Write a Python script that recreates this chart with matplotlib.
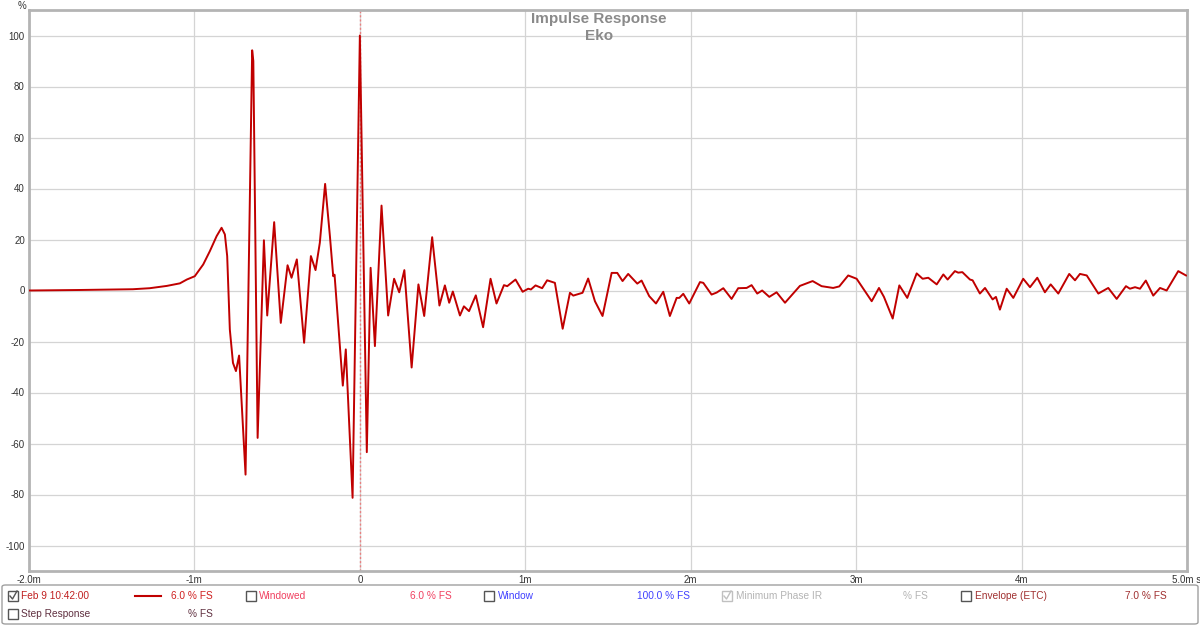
import matplotlib
matplotlib.use("Agg")
import matplotlib.pyplot as plt
from matplotlib.patches import Rectangle, FancyBboxPatch
from matplotlib.lines import Line2D

plt.rcParams['font.family'] = ['Liberation Sans', 'DejaVu Sans']
plt.rcParams['axes.unicode_minus'] = False

# impulse response (time in ms, level in % FS)
time_ms = [-2.0, -1.693, -1.372, -1.270, -1.167, -1.088, -1.046, -0.998, -0.947,
           -0.907, -0.866, -0.836, -0.816, -0.802, -0.786, -0.767, -0.749, -0.730,
           -0.691, -0.651, -0.644, -0.618,
           -0.580, -0.560, -0.518, -0.478, -0.437, -0.413, -0.381, -0.337, -0.296,
           -0.268, -0.242, -0.210, -0.181, -0.161, -0.153, -0.103, -0.085, -0.044,
           0.0, 0.042,
           0.065, 0.091, 0.131, 0.171, 0.207, 0.238, 0.269, 0.313, 0.354, 0.389,
           0.437, 0.481, 0.514, 0.540, 0.562, 0.605, 0.629, 0.660, 0.701, 0.745,
           0.790, 0.826, 0.871, 0.891, 0.941, 0.984, 1.018, 1.034, 1.062, 1.102,
           1.132, 1.179, 1.226, 1.270, 1.290, 1.346, 1.380, 1.421, 1.467, 1.522,
           1.556, 1.588, 1.622, 1.677, 1.703, 1.749, 1.790, 1.834, 1.874, 1.915,
           1.931, 1.955, 1.991, 2.056, 2.076, 2.126, 2.157, 2.197, 2.247, 2.287,
           2.338, 2.368, 2.402, 2.432, 2.475, 2.519, 2.570, 2.660, 2.737, 2.791,
           2.861, 2.898, 2.952, 3.003, 3.094, 3.138, 3.168, 3.221, 3.261, 3.309,
           3.366, 3.402, 3.436, 3.487, 3.527, 3.553, 3.597, 3.617, 3.642, 3.688,
           3.704, 3.748, 3.779, 3.825, 3.845, 3.869, 3.910, 3.950, 4.010, 4.051,
           4.095, 4.141, 4.176, 4.222, 4.288, 4.323, 4.353, 4.394, 4.464, 4.524,
           4.575, 4.631, 4.655, 4.686, 4.716, 4.751, 4.796, 4.837, 4.877, 4.947,
           4.994]
level_pct = [0.0, 0.2, 0.5, 0.9, 1.8, 2.8, 4.3, 5.6, 10.2,
             15.4, 21.3, 24.6, 22.0, 13.5, -15.3, -28.4, -31.6, -25.5,
             -72.2, 94.2, 90.0, -57.8,
             19.7, -9.8, 26.8, -12.7, 9.9, 5.0, 12.2, -20.5, 13.5,
             8.0, 18.7, 41.8, 21.3, 5.6, 6.2, -37.3, -23.1, -81.3,
             100.0, -63.4,
             8.9, -21.8, 33.3, -9.8, 4.6, -0.7, 8.0, -30.2, 2.4, -10.0,
             20.9, -5.9, 2.0, -4.8, -0.4, -9.8, -6.2, -8.1, -1.9, -14.4,
             4.6, -5.1, 2.1, 1.7, 4.3, -0.5, 0.7, 0.4, 2.0, 0.9,
             4.0, 3.0, -15.0, -0.9, -2.0, -0.9, 4.7, -4.2, -10.0, 6.9,
             6.9, 3.7, 6.5, 2.7, 3.9, -2.2, -5.1, -0.5, -10.0, -2.9,
             -2.9, -1.3, -5.1, 3.3, 3.0, -1.6, -0.8, 0.9, -3.3, 0.9,
             1.0, 2.1, -1.2, 0.0, -2.5, -0.7, -4.8, 1.8, 3.7, 1.7,
             1.0, 1.6, 5.9, 4.6, -4.2, 1.0, -2.5, -11.0, 2.0, -2.9,
             6.7, 4.6, 5.0, 2.4, 6.3, 4.3, 7.6, 7.0, 7.2, 4.3,
             4.0, -1.2, 1.0, -3.5, -2.5, -7.5, 0.7, -2.9, 4.6, 1.3,
             5.0, -0.7, 2.4, -1.2, 6.5, 4.0, 6.5, 5.9, -1.2, 1.0,
             -3.3, 1.7, 0.7, 1.3, 0.7, 3.9, -2.0, 1.0, 0.0, 7.6,
             5.9]

x_ticks = [-2, -1, 0, 1, 2, 3, 4, 5]
x_labels = ['-2.0m', '-1m', '0', '1m', '2m', '3m', '4m', '5.0m s']
y_ticks = [100, 80, 60, 40, 20, 0, -20, -40, -60, -80, -100]


def fx(px):
    return px / 1200


def fy(py):
    return 1 - py / 626


fig = plt.figure(figsize=(12, 6.26), dpi=100)
ax = fig.add_axes([fx(29), fy(571), fx(1187) - fx(29), fy(10) - fy(571)])

ax.plot(time_ms, level_pct, color='#c00000', lw=1.4, solid_joinstyle='round', zorder=3)
ax.axvline(0, color='#e88080', lw=1.0, ls=(0, (1.5, 1.5)), zorder=2)

ax.set_xlim(-2, 5)
ax.set_ylim(-110, 110)
ax.set_xticks(x_ticks)
ax.set_xticklabels(x_labels)
ax.set_yticks(y_ticks)
ax.tick_params(length=0, labelsize=7, colors='#333333', pad=3)
ax.grid(True, color='#d4d4d4', lw=0.9)
ax.set_axisbelow(True)
for s in ax.spines.values():
    s.set_color('#b4b4b4')
    s.set_linewidth(2)

fig.text(fx(22), fy(6), '%', fontsize=7, color='#333333', ha='center', va='center')
fig.text(fx(599), fy(19), 'Impulse Response', fontsize=11, fontweight='bold',
         color='#8a8a8a', ha='center', va='center')
fig.text(fx(599), fy(36), 'Eko', fontsize=11, fontweight='bold',
         color='#8a8a8a', ha='center', va='center')

# legend panel
fig.patches.append(FancyBboxPatch((fx(2), fy(624)), fx(1196), fy(585) - fy(624),
                                  boxstyle='round,pad=0,rounding_size=0.003',
                                  transform=fig.transFigure, fc='white',
                                  ec='#a0a0a0', lw=1))


def checkbox(px, py, checked=False, color='#555555'):
    fig.patches.append(Rectangle((fx(px), fy(py + 5)), fx(10), fy(py - 5) - fy(py + 5),
                                 transform=fig.transFigure, fc='white', ec=color, lw=1))
    if checked:
        fig.lines.append(Line2D([fx(px + 2), fx(px + 4.5), fx(px + 9)],
                                [fy(py), fy(py + 3), fy(py - 5)],
                                transform=fig.transFigure, color=color, lw=1))


def label(px, py, s, color, ha='left'):
    fig.text(fx(px), fy(py), s, fontsize=7.3, color=color, ha=ha, va='center')


r1, r2 = 596, 614
checkbox(8, r1, checked=True)
label(21, r1, 'Feb 9 10:42:00', '#c02020')
fig.lines.append(Line2D([fx(135), fx(161)], [fy(r1), fy(r1)],
                        transform=fig.transFigure, color='#c00000', lw=1.5))
label(213, r1, '6.0 % FS', '#d02020', ha='right')
checkbox(246, r1)
label(259, r1, 'Windowed', '#f04060')
label(452, r1, '6.0 % FS', '#f04060', ha='right')
checkbox(484, r1)
label(498, r1, 'Window', '#4040ff')
label(690, r1, '100.0 % FS', '#4040ff', ha='right')
checkbox(722, r1, checked=True, color='#c0c0c0')
label(736, r1, 'Minimum Phase IR', '#b4b4b4')
label(928, r1, '% FS', '#b4b4b4', ha='right')
checkbox(961, r1)
label(975, r1, 'Envelope (ETC)', '#a03030')
label(1167, r1, '7.0 % FS', '#a03030', ha='right')
checkbox(8, r2)
label(21, r2, 'Step Response', '#603040')
label(213, r2, '% FS', '#603040', ha='right')

fig.savefig('out.png', dpi=100)
